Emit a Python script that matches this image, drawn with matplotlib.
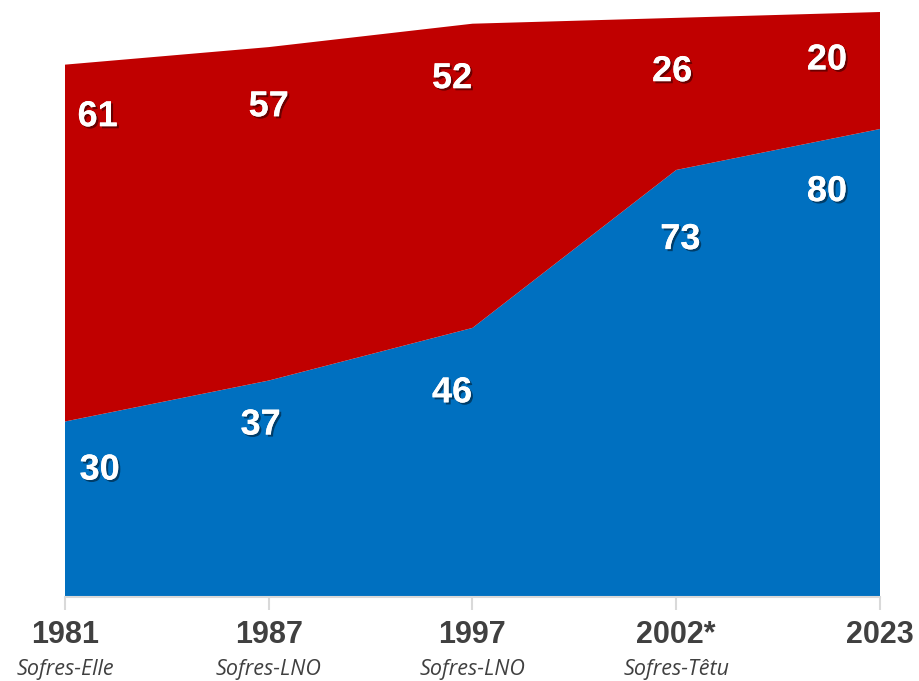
import matplotlib
matplotlib.use("Agg")
import matplotlib.pyplot as plt
import matplotlib.patheffects as pe
import matplotlib.transforms as mtransforms

# Données
annees = ["1981", "1987", "1997", "2002*", "2023"]
sources = ["Sofres-Elle", "Sofres-LNO", "Sofres-LNO", "Sofres-Têtu", ""]
bleu = [30, 37, 46, 73, 80]
rouge = [61, 57, 52, 26, 20]

# décalages des étiquettes (styles, en unités de l'axe)
dx_bleu = [0.17, -0.04, -0.1, 0.02, -0.26]
dy_bleu = [-8.3, -7.6, -11.1, -11.9, -10.7]
dx_rouge = [0.16, 0.0, -0.1, -0.02, -0.26]
dy_rouge = [-8.9, -10.2, -9.4, -9.2, -8.2]

couleur_bleu = "#0070C0"
couleur_rouge = "#C00000"
gris_texte = "#404040"

x = list(range(len(annees)))
totaux = [b + r for b, r in zip(bleu, rouge)]

fig = plt.figure(figsize=(9.2, 6.81), dpi=100)
ax = fig.add_axes([65 / 920, 84 / 681, 815 / 920, 585 / 681])

ax.stackplot(x, bleu, rouge, colors=[couleur_bleu, couleur_rouge], linewidth=0)
ax.set_xlim(0, len(annees) - 1)
ax.set_ylim(0, 100)

for s in ["top", "left", "right"]:
    ax.spines[s].set_visible(False)
ax.spines["bottom"].set_color("#D9D9D9")
ax.spines["bottom"].set_linewidth(1.5)
ax.set_yticks([])
ax.set_xticks(x)
ax.set_xticklabels([])
ax.tick_params(axis="x", length=9, width=1.5, color="#D9D9D9")

ombre = [pe.withSimplePatchShadow(offset=(1.5, -1.5), shadow_rgbFace="black", alpha=0.45), pe.Normal()]
for i in x:
    ax.text(i + dx_bleu[i], bleu[i] + dy_bleu[i], str(bleu[i]), color="white",
            fontsize=26, fontweight="bold", family="Liberation Sans",
            ha="center", va="center", path_effects=ombre)
    ax.text(i + dx_rouge[i], totaux[i] + dy_rouge[i], str(rouge[i]), color="white",
            fontsize=26, fontweight="bold", family="Liberation Sans",
            ha="center", va="center", path_effects=ombre)

trans = mtransforms.blended_transform_factory(ax.transData, fig.transFigure)
for i in x:
    ax.text(i, 1 - 635 / 681, annees[i], transform=trans, ha="center", va="center",
            fontsize=22, fontweight="bold", family="Liberation Sans", color=gris_texte,
            clip_on=False)
    if sources[i]:
        ax.text(i, 1 - 669 / 681, sources[i], transform=trans, ha="center", va="center",
                fontsize=15.5, style="italic", family="Open Sans", color=gris_texte,
                clip_on=False)

fig.savefig("out.png", dpi=100)
